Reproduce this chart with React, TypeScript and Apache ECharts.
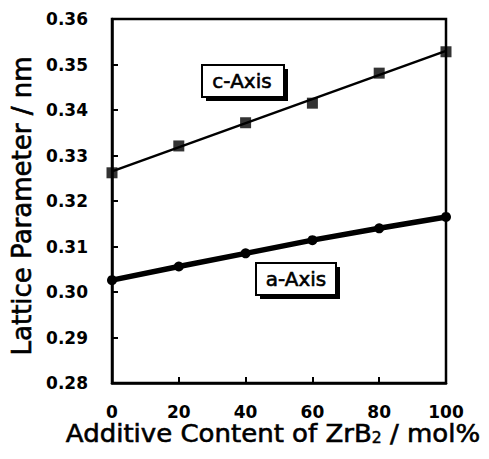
import React, { useEffect, useRef } from "react";
import * as echarts from "echarts";

const xValues = [0, 20, 40, 60, 80, 100];
const cAxisValues = [0.3262, 0.3321, 0.3372, 0.3415, 0.3481, 0.3528];
const aAxisValues = [0.3026, 0.3056, 0.3085, 0.3114, 0.314, 0.3165];
const cFitEnds = [0.3265, 0.353];
const xTicks = [0, 20, 40, 60, 80, 100];
const yMin = 0.28;
const yMax = 0.36;
const yStep = 0.01;

export default function App() {
  const ref = useRef<HTMLDivElement>(null);
  useEffect(() => {
    document.body.style.margin = "0";
    const chart = echarts.init(ref.current!, null, { renderer: "svg" });
    const fam = "DejaVu Sans";
    chart.setOption({
      animation: false,
      backgroundColor: "#ffffff",
      grid: {
        left: 112,
        right: 43,
        top: 19,
        bottom: 76,
        show: true,
        borderColor: "#000",
        borderWidth: 2.5,
      },
      xAxis: {
        type: "value",
        min: xTicks[0],
        max: xTicks[xTicks.length - 1],
        interval: 20,
        axisLine: { show: true, lineStyle: { color: "#000", width: 2.5 } },
        axisTick: { show: true, inside: true, length: 6, lineStyle: { color: "#000", width: 2 } },
        splitLine: { show: false },
        axisLabel: {
          margin: 20,
          color: "#000",
          fontFamily: fam,
          fontWeight: "bold",
          fontSize: 17,
        },
      },
      yAxis: {
        type: "value",
        min: yMin,
        max: yMax,
        interval: yStep,
        axisLine: { show: true, lineStyle: { color: "#000", width: 2.5 } },
        axisTick: { show: true, inside: true, length: 6, lineStyle: { color: "#000", width: 2 } },
        splitLine: { show: false },
        axisLabel: {
          margin: 24,
          color: "#000",
          fontFamily: fam,
          fontWeight: "bold",
          fontSize: 17,
          formatter: (v: number) => v.toFixed(2),
        },
      },
      series: [
        {
          type: "line",
          data: [
            [xValues[0], cFitEnds[0]],
            [xValues[xValues.length - 1], cFitEnds[1]],
          ],
          symbol: "none",
          lineStyle: { color: "#000", width: 2.5 },
          z: 2,
        },
        {
          type: "scatter",
          data: xValues.map((x, i) => [x, cAxisValues[i]]),
          symbol: "rect",
          symbolSize: 11,
          itemStyle: { color: "#000" },
          z: 3,
        },
        {
          type: "line",
          data: xValues.map((x, i) => [x, aAxisValues[i]]),
          symbol: "circle",
          symbolSize: 10,
          showSymbol: true,
          lineStyle: { color: "#000", width: 5.5 },
          itemStyle: { color: "#000" },
          z: 3,
        },
      ],
      graphic: [
        {
          type: "text",
          x: 22,
          y: 206,
          rotation: Math.PI / 2,
          style: {
            text: "Lattice Parameter / nm",
            fill: "#000",
            stroke: "#000",
            lineWidth: 0.6,
            font: "26px DejaVu Sans",
            align: "center",
            verticalAlign: "middle",
          },
        },
        {
          type: "text",
          x: 273,
          y: 433,
          scaleX: 1.04,
          style: {
            text: "{n|Additive Content of ZrB}{s|2}{n| / mol%}",
            fill: "#000",
            align: "center",
            verticalAlign: "middle",
            rich: {
              n: { font: "25px DejaVu Sans", fill: "#000", stroke: "#000", lineWidth: 0.6 },
              s: { font: "15px DejaVu Sans", fill: "#000", stroke: "#000", lineWidth: 0.5, padding: [10, 0, 0, 0] },
            },
          },
        },
        { type: "rect", shape: { x: 206, y: 69, width: 82, height: 32 }, style: { fill: "#000" } },
        { type: "rect", shape: { x: 202, y: 65, width: 82, height: 32 }, style: { fill: "#fff", stroke: "#000", lineWidth: 2 } },
        {
          type: "text",
          x: 242,
          y: 81,
          style: { text: "c-Axis", font: "20px DejaVu Sans", fill: "#000", stroke: "#000", lineWidth: 0.6, align: "center", verticalAlign: "middle" },
        },
        { type: "rect", shape: { x: 260, y: 267, width: 80, height: 32 }, style: { fill: "#000" } },
        { type: "rect", shape: { x: 256, y: 263, width: 80, height: 32 }, style: { fill: "#fff", stroke: "#000", lineWidth: 2 } },
        {
          type: "text",
          x: 296,
          y: 279,
          style: { text: "a-Axis", font: "20px DejaVu Sans", fill: "#000", stroke: "#000", lineWidth: 0.6, align: "center", verticalAlign: "middle" },
        },
      ],
    });
    return () => chart.dispose();
  }, []);
  return <div ref={ref} style={{ width: 489, height: 459 }} />;
}
